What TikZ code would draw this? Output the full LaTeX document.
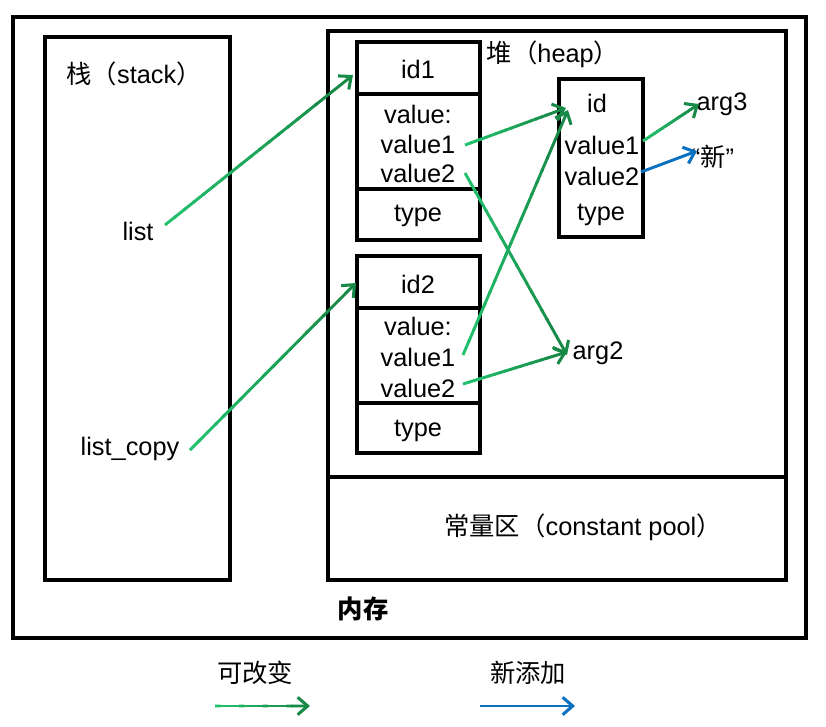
\documentclass[tikz,border=0pt]{standalone}
\usepackage{fontspec}
\setmainfont{Liberation Sans}
\newfontfamily\cjk{Noto Sans CJK SC}
\usetikzlibrary{arrows.meta,calc}
\definecolor{gl}{HTML}{22C46E}
\definecolor{gd}{HTML}{178A47}
\definecolor{nb}{HTML}{0A70C0}
\tikzset{
 frame/.style={draw=black,line width=2.3pt},
 txt/.style={inner sep=0pt,font=\fontsize{19}{21}\selectfont},
 tipb/.style={-{Straight Barb[length=7.5pt,width=13pt,line width=2.3pt]}},
 wire/.style={line width=2.2pt},
}
\newcommand\garr[2]{%
 \foreach \i [evaluate=\i as \f using \i/20, evaluate=\i as \g using (\i+1)/20+0.01, evaluate=\i as \p using int(\i*5.5+3)] in {0,...,15}{
   \draw[wire,color=gd!\p!gl] ($(#1)!\f!(#2)$) -- ($(#1)!\g!(#2)$);}
 \draw[wire,color=gd,tipb] ($(#1)!0.8!(#2)$) -- (#2);}
\begin{document}
\begin{tikzpicture}[x=0.75pt,y=-0.75pt]
\useasboundingbox (0,0) rectangle (826,726);
% frames
\draw[frame] (13,17) rectangle (806,638);
\draw[frame] (45,37) rectangle (230,580);
\draw[frame] (328,31) rectangle (786,580);
\draw[frame] (328,477) -- (786,477);
% object boxes
\draw[frame] (357,42) rectangle (480,240);
\draw[frame] (357,94) -- (480,94);
\draw[frame] (357,189) -- (480,189);
\draw[frame] (357,256) rectangle (480,453);
\draw[frame] (357,308) -- (480,308);
\draw[frame] (357,403) -- (480,403);
\draw[frame] (559,79) rectangle (643,237);
% labels
\node[txt] (stk) at (134,74) {{\cjk 栈（}stack{\cjk ）}};
\node[txt] (heap) at (553,54) {{\cjk 堆（}heap{\cjk ）}};
\node[txt] (pool) at (583,527) {{\cjk 常量区（}constant pool{\cjk ）}};
\node[txt] (mem) at (363,609) {\cjk\bfseries 内存};
\node[txt] (list) at (138,231) {list};
\node[txt] (lcopy) at (130,449) {list\_copy};
% id1
\node[txt] (id1) at (418,69) {id1};
\node[txt] (v1h) at (418,114) {value:};
\node[txt] (v11) at (418,144) {value1};
\node[txt] (v12) at (418,173) {value2};
\node[txt] (t1) at (418,216) {type};
% id2
\node[txt] (id2) at (418,284) {id2};
\node[txt] (v2h) at (418,326) {value:};
\node[txt] (v21) at (418,357) {value1};
\node[txt] (v22) at (418,388) {value2};
\node[txt] (t2) at (418,431) {type};
% id
\node[txt] (id) at (597,103) {id};
\node[txt] (v31) at (602,145) {value1};
\node[txt] (v32) at (602,176) {value2};
\node[txt] (t3) at (601,215) {type};
% targets
\node[txt] (arg3) at (722,104) {arg3};
\node[txt] (arg2) at (598,353) {arg2};
\node[txt] (xin) at (713,157) {“{\cjk 新}”};
% legend
\node[txt] (lg1) at (255,673) {\cjk 可改变};
\node[txt] (lg2) at (528,673) {\cjk 新添加};
% arrow endpoints
\coordinate (a1s) at (165,225); \coordinate (a1e) at (353,75);
\coordinate (a2s) at (190,450); \coordinate (a2e) at (356,283);
\coordinate (a3s) at (465,145); \coordinate (a3e) at (566,108);
\coordinate (a4s) at (465,173); \coordinate (a4e) at (567,355);
\coordinate (a5s) at (463,355); \coordinate (a5e) at (568,110);
\coordinate (a6s) at (463,384); \coordinate (a6e) at (567,352);
\coordinate (a7s) at (643,141); \coordinate (a7e) at (699,104);
\coordinate (a8s) at (641,172); \coordinate (a8e) at (697,151);
\coordinate (l1s) at (215,706); \coordinate (l1e) at (310,706);
\coordinate (l2s) at (480,706); \coordinate (l2e) at (575,706);
% arrows
\garr{a1s}{a1e}
\garr{a2s}{a2e}
\garr{a3s}{a3e}
\garr{a4s}{a4e}
\garr{a5s}{a5e}
\garr{a6s}{a6e}
\garr{a7s}{a7e}
\draw[wire,nb,tipb] (a8s) -- (a8e);
\garr{l1s}{l1e}
\draw[wire,nb,tipb] (l2s) -- (l2e);
\end{tikzpicture}
\end{document}
